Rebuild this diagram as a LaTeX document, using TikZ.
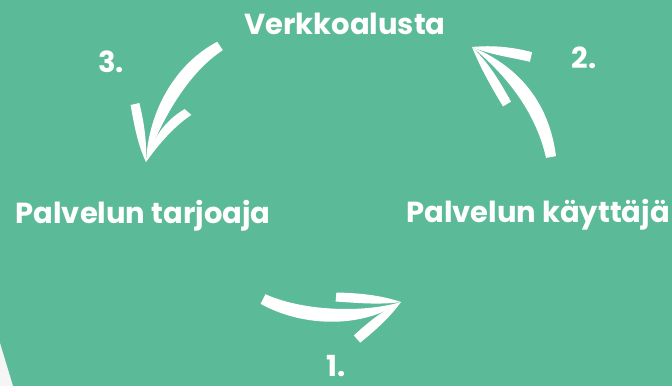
\documentclass[tikz,border=0pt]{standalone}
\usepackage{fontspec}
\setmainfont{Poppins}
\usetikzlibrary{calc}
\usetikzlibrary{math}

\definecolor{bggreen}{HTML}{5BBA97}
\definecolor{paper}{HTML}{F5F5F5}

% one brush stroke: blunt end #1, controls #2 and #3, pointed end #4,
% half width at the blunt end #5, offset of the controls #6
\newcommand{\brush}[6]{%
  \fill[brush] ($#1+#5$) .. controls ($#2+#6$) and ($#3+#6$) .. #4
    .. controls ($#3-#6$) and ($#2-#6$) .. ($#1-#5$) -- cycle;}

\begin{document}
\begin{tikzpicture}[x=1pt,y=-1pt,
    label/.style={text=white, inner sep=0pt, anchor=base,
                  font=\bfseries\fontsize{29}{29}\selectfont},
    brush/.style={fill=white}]

  \tikzmath{
    \w = 672; % width of the picture
    \h = 386; % height of the picture
  }

  % background
  \fill[bggreen] (0,0) rectangle (\w,\h);
  \fill[paper] (0,343) -- (13,386) -- (0,386) -- cycle;
  \clip (0,0) rectangle (\w,\h);

  % the three parties
  \node[label] (platform) at (345,34)  {Verkkoalusta};
  \node[label] (provider) at (143,223) {Palvelun tarjoaja};
  \node[label] (user)     at (538,222) {Palvelun käyttäjä};

  % step numbers
  \node[label] (step1) at (336,376) {1.};
  \node[label] (step2) at (584,68)  {2.};
  \node[label] (step3) at (111,72)  {3.};

  % ends of the arrows
  \coordinate (tail1) at (263,299);
  \coordinate (tip1)  at (401,302);
  \coordinate (tail2) at (551,157);
  \coordinate (tip2)  at (472,47);
  \coordinate (tail3) at (220,46);
  \coordinate (tip3)  at (146,162);

  % arrow 1: provider -> user
  \brush{(tail1)}{(300,318)}{(360,322)}{(tip1)}{(-2.4,4.8)}{(0,8)}
  \brush{(336,297)}{(358,298)}{(380,300)}{(tip1)}{(0.4,-4.5)}{(0.4,-5)}
  \brush{(357,339)}{(371,327)}{(385,315)}{(tip1)}{(3.2,3.6)}{(3.5,4)}

  % arrow 2: user -> platform
  \brush{(tail2)}{(543,110)}{(515,72)}{(tip2)}{(5,-0.9)}{(6.5,-4.6)}
  \brush{(531,57)}{(511,52)}{(492,50)}{(tip2)}{(1.1,-4.8)}{(1.2,-5)}
  \brush{(507,104)}{(496,85)}{(485,66)}{(tip2)}{(4,-2.4)}{(4.3,-2.6)}

  % arrow 3: platform -> provider
  \brush{(tail3)}{(182,68)}{(155,115)}{(tip3)}{(2.8,4.2)}{(6.6,4.2)}
  \brush{(135,104)}{(139,123)}{(142,142)}{(tip3)}{(4.4,-1)}{(4.9,-1.1)}
  \brush{(188,112)}{(172,122)}{(157,138)}{(tip3)}{(3.4,2.9)}{(3.8,3.2)}

\end{tikzpicture}
\end{document}
